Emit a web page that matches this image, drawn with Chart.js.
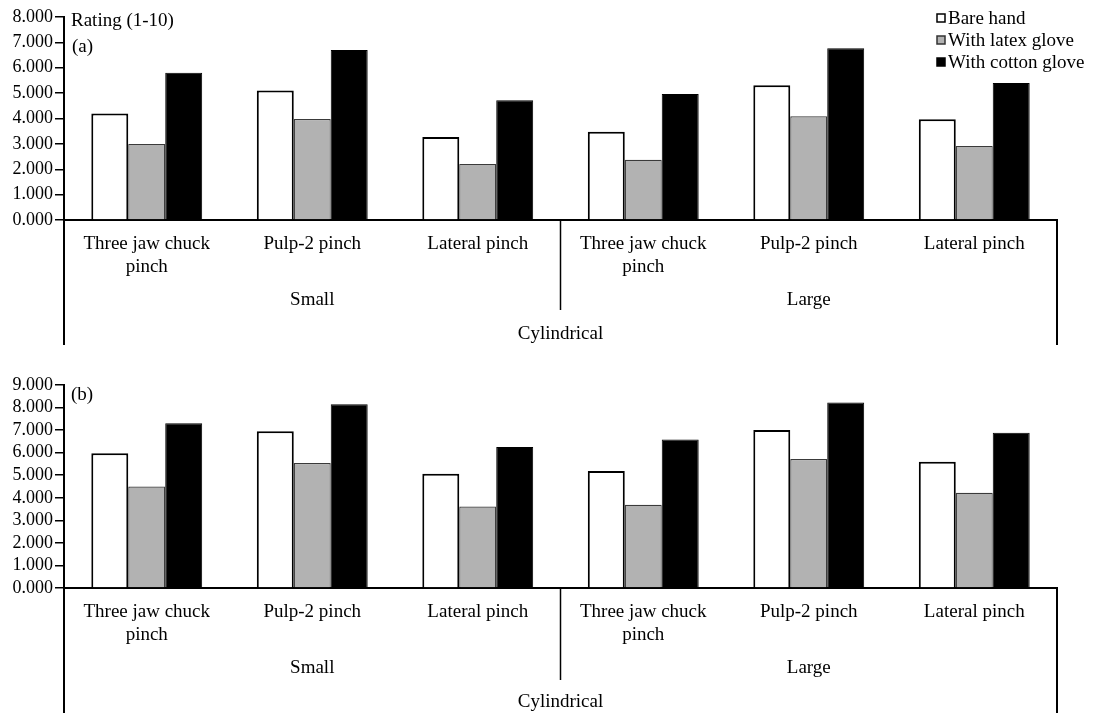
<!DOCTYPE html>
<html>
<head>
<meta charset="utf-8">
<script src="https://cdn.jsdelivr.net/npm/chart.js@4"></script>
<style>
  html, body { margin: 0; padding: 0; background: #fff; }
  canvas { position: absolute; left: 0; }
  #chartA { top: 0; }
  #chartB { top: 357px; }
</style>
</head>
<body>
<canvas id="chartA" width="1094" height="357"></canvas>
<canvas id="chartB" width="1094" height="356"></canvas>
<script>
// categories (two-level grouping below the bars)
const pinchLabels = [['Three jaw chuck', 'pinch'], 'Pulp-2 pinch', 'Lateral pinch',
                     ['Three jaw chuck', 'pinch'], 'Pulp-2 pinch', 'Lateral pinch'];
const sizeLabels = ['Small', 'Large'];
const shapeLabels = ['Cylindrical'];
const seriesNames = ['Bare hand', 'With latex glove', 'With cotton glove'];

// panel (a)
const bareA   = [4.20, 5.10, 3.27, 3.48, 5.31, 3.97];
const latexA  = [3.00, 3.98, 2.21, 2.37, 4.09, 2.92];
const cottonA = [5.80, 6.70, 4.72, 4.97, 6.77, 5.40];

// panel (b)
const bareB   = [5.97, 6.95, 5.06, 5.19, 7.00, 5.60];
const latexB  = [4.50, 5.54, 3.61, 3.69, 5.72, 4.22];
const cottonB = [7.30, 8.15, 6.25, 6.58, 8.22, 6.88];

const FONT = 'Liberation Serif';
const fills = ['#ffffff', '#b2b2b2', '#000000'];
const borders = ['#000000', '#3a3a3a', '#000000'];
const borderW = [2, 1.2, 1];

function makeDatasets(values) {
  return values.map((v, i) => ({
    label: seriesNames[i],
    data: v,
    backgroundColor: fills[i],
    borderColor: borders[i],
    borderWidth: borderW[i],
    categoryPercentage: 0.67,
    barPercentage: 1.0
  }));
}

// draws the extra frame lines, panel tags and (optionally) legend
function decoPlugin(opts) {
  return {
    id: 'deco',
    afterDraw(chart) {
      const ctx = chart.ctx;
      const ca = chart.chartArea;
      const x = chart.scales.x;
      ctx.save();
      ctx.strokeStyle = '#000';
      ctx.lineWidth = 2;
      // left axis continues down through label area
      ctx.beginPath();
      ctx.moveTo(ca.left, ca.bottom);
      ctx.lineTo(ca.left, opts.outerBottom);
      ctx.stroke();
      // right edge
      ctx.beginPath();
      ctx.moveTo(ca.right, ca.bottom);
      ctx.lineTo(ca.right, opts.outerBottom);
      ctx.stroke();
      // divider between Small and Large
      const mid = (x.getPixelForValue(2) + x.getPixelForValue(3)) / 2;
      ctx.lineWidth = 1.5;
      ctx.beginPath();
      ctx.moveTo(mid, ca.bottom);
      ctx.lineTo(mid, opts.midBottom);
      ctx.stroke();

      ctx.fillStyle = '#000';
      ctx.font = '19px ' + FONT;
      ctx.textBaseline = 'middle';
      ctx.textAlign = 'left';
      opts.texts.forEach(t => ctx.fillText(t[0], t[1], t[2]));

      if (opts.legend) {
        chart.data.datasets.forEach((ds, i) => {
          const y = 18 + i * 22;
          ctx.fillStyle = ds.backgroundColor;
          ctx.fillRect(937, y - 4, 8, 8);
          ctx.strokeStyle = i === 1 ? '#333' : '#000';
          ctx.lineWidth = 1.5;
          ctx.strokeRect(937, y - 4, 8, 8);
          ctx.fillStyle = '#000';
          ctx.fillText(ds.label, 948, y + 1);
        });
      }
      ctx.restore();
    }
  };
}

function makeChart(id, values, cfg) {
  const tickFont = { family: FONT, size: 18 };
  const labFont = { family: FONT, size: 19 };
  return new Chart(document.getElementById(id), {
    type: 'bar',
    data: { labels: pinchLabels, datasets: makeDatasets(values) },
    options: {
      responsive: false,
      animation: false,
      devicePixelRatio: 1,
      layout: { padding: { top: cfg.top, right: 37, left: 0, bottom: 0 } },
      plugins: { legend: { display: false }, tooltip: { enabled: false } },
      scales: {
        y: {
          min: 0, max: cfg.max,
          afterFit: s => { s.width = 64; },
          ticks: { stepSize: 1, autoSkip: false, color: '#000', font: tickFont, padding: 2,
                   callback: v => v.toFixed(3) },
          grid: { drawOnChartArea: false, drawTicks: true, tickLength: 9, color: '#000', lineWidth: 1.5 },
          border: { color: '#000', width: 2 }
        },
        x: {
          weight: 1,
          afterFit: s => { s.height = 61; },
          ticks: { color: '#000', font: labFont, padding: 5, maxRotation: 0, autoSkip: false },
          grid: { display: false },
          border: { color: '#000', width: 2 }
        },
        x2: {
          type: 'category', position: 'bottom', weight: 2, offset: true,
          labels: sizeLabels,
          afterFit: s => { s.height = 34; },
          ticks: { color: '#000', font: labFont, padding: 0, maxRotation: 0 },
          grid: { display: false },
          border: { display: false }
        },
        x3: {
          type: 'category', position: 'bottom', weight: 3, offset: true,
          labels: shapeLabels,
          afterFit: s => { s.height = cfg.lastH; },
          ticks: { color: '#000', font: labFont, padding: cfg.lastPad, maxRotation: 0 },
          grid: { display: false },
          border: { display: false }
        }
      }
    },
    plugins: [decoPlugin(cfg.deco)]
  });
}

makeChart('chartA', [bareA, latexA, cottonA], {
  top: 17, max: 8, lastH: 42, lastPad: 0,
  deco: { outerBottom: 345, midBottom: 310, legend: true,
          texts: [['Rating (1-10)', 71, 21], ['(a)', 72, 47]] }
});

makeChart('chartB', [bareB, latexB, cottonB], {
  top: 28, max: 9, lastH: 30, lastPad: 0,
  deco: { outerBottom: 356, midBottom: 323, legend: false,
          texts: [['(b)', 71, 38]] }
});
</script>
</body>
</html>
